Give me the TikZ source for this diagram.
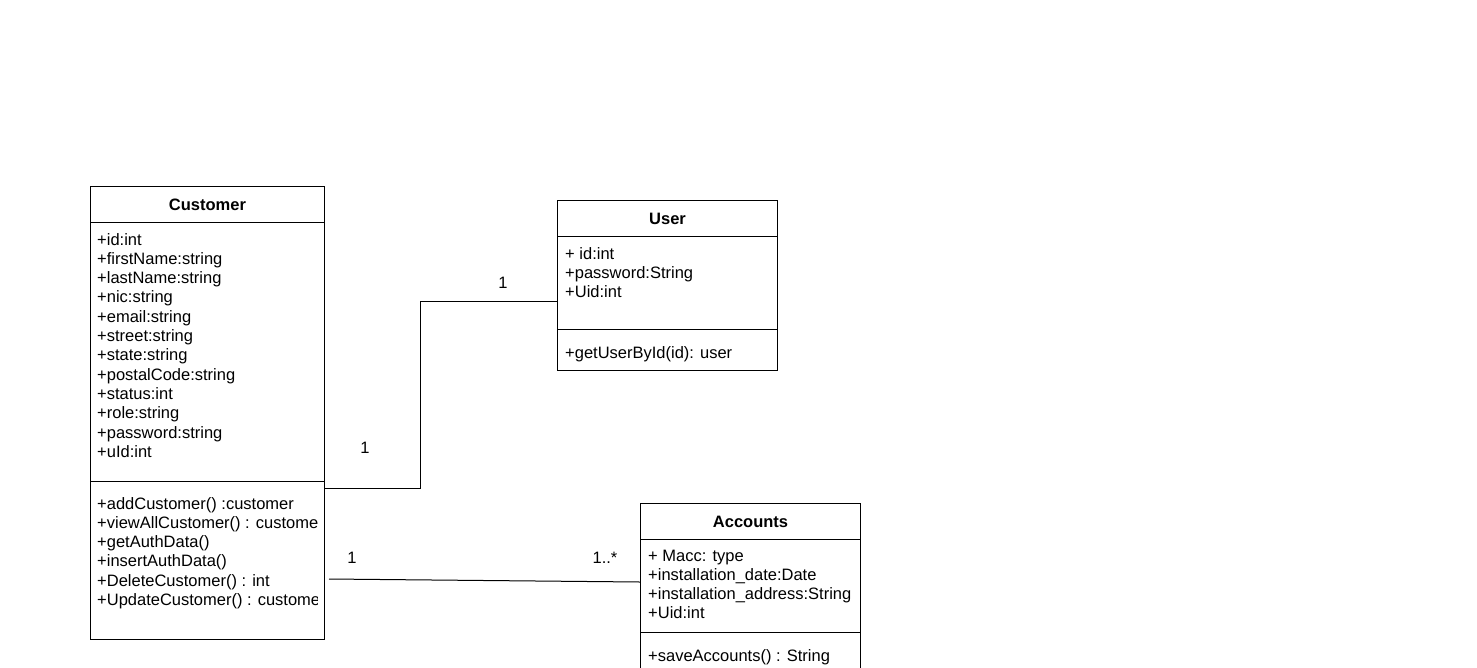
\documentclass[tikz,border=0pt]{standalone}
\usepackage{fontspec}
\setmainfont{Liberation Sans}
\usetikzlibrary{calc}
\begin{document}
\begin{tikzpicture}[x=1pt,y=-1pt,
  classbox/.style={draw=black, line width=1pt, anchor=north west, inner sep=0pt, minimum width=#1},
  sepline/.style={draw=black, line width=1pt},
  classtitle/.style={font=\fontsize{16.5}{19.3}\selectfont\bfseries, anchor=base, inner sep=0pt},
  member/.style={font=\fontsize{16.5}{19.3}\selectfont, anchor=base west, inner sep=0pt},
  mult/.style={font=\fontsize{16.5}{19.3}\selectfont, anchor=base, inner sep=0pt},
  assoc/.style={draw=black, line width=1pt}]
\useasboundingbox (0,0) rectangle (1477,667);
\clip (0,0) rectangle (1477,667);

% ---------- Customer ----------
\node[classbox=234pt, minimum height=453pt] (customer) at (90,186) {};
\node[classtitle] (ctitle) at ($(customer.north)+(0,24)$) {Customer};
\draw[sepline] ($(customer.north west)+(0,36)$) -- ($(customer.north east)+(0,36)$);
\draw[sepline] ($(customer.north west)+(0,295)$) -- ($(customer.north east)+(0,295)$);
\foreach [count=\i from 0] \t in {+id:int, +firstName:string, +lastName:string,
  +nic:string, +email:string, +street:string, +state:string, +postalCode:string,
  +status:int, +role:string, +password:string, +uId:int}
  \node[member] (cattr\i) at (97, 245+19.3*\i) {\t};
\begin{scope}
  % operation texts are cut off at the inner right margin of the box
  \clip (90,481) rectangle (317.5,639);
  \foreach [count=\i from 0] \t in {+addCustomer() :customer, +viewAllCustomer() : customer,
    +getAuthData(), +insertAuthData(), +DeleteCustomer() : int, +UpdateCustomer() : customer}
    \node[member] (cop\i) at (97, 509+19.3*\i) {\t};
\end{scope}

% ---------- User ----------
\node[classbox=220pt, minimum height=170pt] (user) at (557,200) {};
\node[classtitle] (utitle) at ($(user.north)+(0,24)$) {User};
\draw[sepline] ($(user.north west)+(0,36)$) -- ($(user.north east)+(0,36)$);
\draw[sepline] ($(user.north west)+(0,129)$) -- ($(user.north east)+(0,129)$);
\foreach [count=\i from 0] \t in {+ id:int, +password:String, +Uid:int}
  \node[member] (uattr\i) at (565, 259+19.3*\i) {\t};
\node[member] (uop0) at (565, 358) {+getUserById(id): user};

% ---------- Accounts ----------
\node[classbox=220pt, minimum height=200pt] (accounts) at (640,503) {};
\node[classtitle] (atitle) at ($(accounts.north)+(0,24)$) {Accounts};
\draw[sepline] ($(accounts.north west)+(0,36)$) -- ($(accounts.north east)+(0,36)$);
\draw[sepline] ($(accounts.north west)+(0,129)$) -- ($(accounts.north east)+(0,129)$);
\foreach [count=\i from 0] \t in {+ Macc: type, +installation\_date:Date,
  +installation\_address:String, +Uid:int}
  \node[member] (aattr\i) at (648, 561+19.3*\i) {\t};
\node[member] (aop0) at (648, 661) {+saveAccounts() : String};

% ---------- Associations ----------
\coordinate (cu) at ($(customer.north east)+(0,302)$);
\coordinate (uc) at ($(user.north west)+(0,101)$);
\coordinate (bend) at (420,0);
\draw[assoc] (cu) -- (cu -| bend) -- (uc -| bend) -- (uc);
\node[mult] (mcu) at (365,453) {1};
\node[mult] (muc) at (503,288) {1};

\coordinate (ca) at (329,579);
\coordinate (ac) at ($(accounts.north west)+(0,79)$);
\draw[assoc] (ca) -- (ac);
\node[mult] (mca) at (352,563) {1};
\node[mult] (mac) at (605,563) {1..*};
\end{tikzpicture}
\end{document}
